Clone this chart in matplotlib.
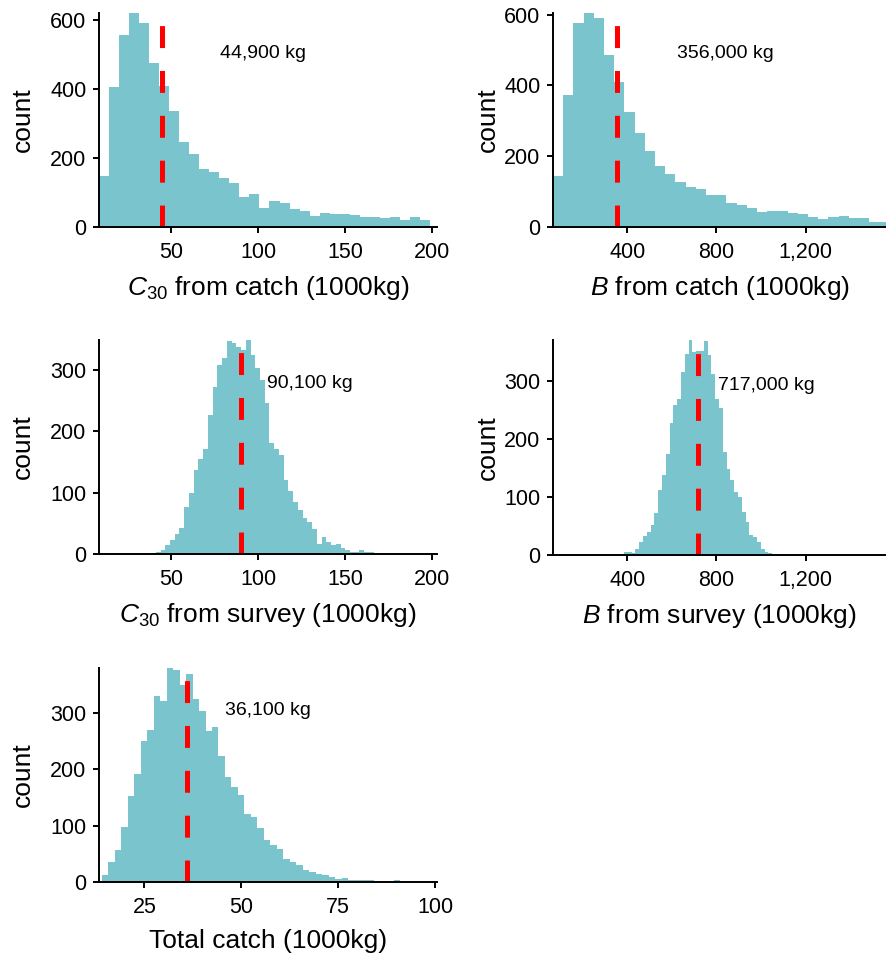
import numpy as np
import matplotlib
matplotlib.use('Agg')
import matplotlib.pyplot as plt

# Fonts
#################
plt.rcParams['font.family'] = ['Liberation Sans', 'DejaVu Sans']
plt.rcParams['mathtext.fontset'] = 'custom'
plt.rcParams['mathtext.rm'] = 'Liberation Sans'
plt.rcParams['mathtext.it'] = 'Liberation Sans:italic'
plt.rcParams['lines.scale_dashes'] = False
#################

# Data (histogram counts)
#################
# C30 from catch
c30_catch_start = 8.7
c30_catch_width = 5.76
c30_catch_counts = [147, 405, 557, 620, 590, 475, 407, 335, 247, 210, 168, 158, 141, 126, 88, 97,
                    56, 74, 70, 52, 47, 32, 41, 39, 39, 35, 30, 30, 25, 28, 20, 28, 20]
c30_catch_median = 44.9

# B from catch
b_catch_start = 68
b_catch_width = 45.7
b_catch_counts = [144, 374, 576, 605, 590, 485, 409, 325, 267, 215, 172, 149, 126, 112, 106, 90,
                  90, 67, 63, 55, 42, 46, 46, 40, 36, 29, 23, 29, 31, 24, 24, 15, 14]
b_catch_median = 356

# C30 from survey
c30_survey_start = 38.6
c30_survey_width = 2.72
c30_survey_counts = [1, 3, 6, 14, 23, 33, 43, 76, 100, 137, 155, 171, 227, 272, 309, 319, 347, 344,
                     338, 333, 349, 325, 303, 284, 246, 181, 172, 162, 121, 102, 85, 72, 59, 53,
                     40, 17, 28, 20, 14, 17, 9, 7, 4, 4, 6, 3, 3, 1, 1, 0, 2, 2]
c30_survey_median = 90.1

# B from survey
b_survey_start = 385.8
b_survey_width = 17.04
b_survey_counts = [6, 5, 4, 11, 22, 32, 40, 52, 72, 112, 138, 175, 227, 259, 270, 315, 346, 371,
                   350, 352, 352, 369, 345, 313, 270, 254, 178, 149, 130, 109, 100, 75, 57, 34,
                   31, 23, 11, 6, 3]
b_survey_median = 717

# Total catch
total_start = 14.0
total_width = 1.674
total_counts = [12, 35, 56, 97, 152, 192, 251, 270, 331, 321, 380, 376, 350, 369, 325, 304, 269,
                275, 223, 186, 168, 154, 121, 115, 96, 74, 65, 58, 41, 36, 30, 22, 17, 15, 12,
                9, 6, 8, 4, 3, 3, 3, 2, 2, 1, 3, 0]
total_median = 36.1

labels_kg = ['44,900 kg', '356,000 kg', '90,100 kg', '717,000 kg', '36,100 kg']
#################

# Figure
#################
fig = plt.figure(figsize=(8.86, 9.61), dpi=100)

bar_col = '#7AC5CD'

panels = [
    # axes rect, start, width, counts, median, label, xlim, xticks, xticklabels, yticks, xlabel, text pos, ylab x
    ([0.1117, 0.7638, 0.3815, 0.2227], c30_catch_start, c30_catch_width, c30_catch_counts,
     c30_catch_median, labels_kg[0], (8.7, 202.8), [50, 100, 150, 200], ['50', '100', '150', '200'],
     [0, 200, 400, 600], r'$C_{\mathrm{30}}$ from catch (1000kg)', (103, 502), -0.19),
    ([0.6242, 0.7638, 0.3758, 0.2227], b_catch_start, b_catch_width, b_catch_counts,
     b_catch_median, labels_kg[1], (68, 1560), [400, 800, 1200], ['400', '800', '1,200'],
     [0, 200, 400, 600], r'$B$ from catch (1000kg)', (841, 491), -0.16),
    ([0.1117, 0.4235, 0.3815, 0.2227], c30_survey_start, c30_survey_width, c30_survey_counts,
     c30_survey_median, labels_kg[2], (8.7, 202.8), [50, 100, 150, 200], ['50', '100', '150', '200'],
     [0, 100, 200, 300], r'$C_{\mathrm{30}}$ from survey (1000kg)', (129.8, 278), -0.19),
    ([0.6242, 0.4225, 0.3758, 0.2237], b_survey_start, b_survey_width, b_survey_counts,
     b_survey_median, labels_kg[3], (68, 1560), [400, 800, 1200], ['400', '800', '1,200'],
     [0, 100, 200, 300], r'$B$ from survey (1000kg)', (1025, 293), -0.16),
    ([0.1117, 0.0822, 0.3815, 0.2227], total_start, total_width, total_counts,
     total_median, labels_kg[4], (13.3, 100.5), [25, 50, 75, 100], ['25', '50', '75', '100'],
     [0, 100, 200, 300], 'Total catch (1000kg)', (56.9, 304), -0.19),
]

for rect, start, width, counts, med, lab, xlim, xt, xtl, yt, xlab, tpos, ylx in panels:
    ax = fig.add_axes(rect)
    counts = np.array(counts)
    edges = start + width * np.arange(len(counts) + 1)
    ax.stairs(counts, edges, fill=True, color=bar_col, linewidth=0)
    ax.axvline(med, color='red', linewidth=3.6, dashes=(15.8, 16.5), dash_capstyle='butt')
    ax.text(tpos[0], tpos[1], lab, ha='center', va='center', fontsize=14)

    ax.set_xlim(xlim)
    ax.set_ylim(0, counts.max())
    ax.set_xticks(xt)
    ax.set_xticklabels(xtl)
    ax.set_yticks(yt)
    ax.tick_params(axis='both', labelsize=15.5, length=4, width=1.4, color='black')
    ax.tick_params(axis='x', pad=7)
    ax.tick_params(axis='y', pad=5)
    for s in ['top', 'right']:
        ax.spines[s].set_visible(False)
    for s in ['left', 'bottom']:
        ax.spines[s].set_linewidth(1.4)
    ax.set_xlabel(xlab, fontsize=19, labelpad=7.5)
    ax.set_ylabel('count', fontsize=19)
    ax.yaxis.set_label_coords(ylx, 0.5)

plt.savefig('out.png', dpi=100)
plt.close()
#################
